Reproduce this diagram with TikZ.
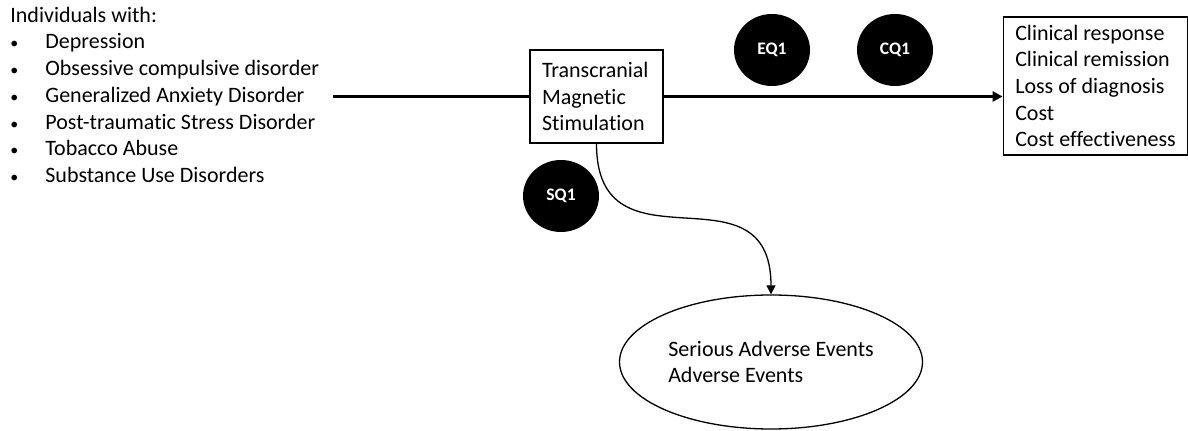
\documentclass[tikz,border=0pt]{standalone}
\usepackage{fontspec}
\setmainfont{Carlito}[Ligatures=NoCommon]
\usetikzlibrary{arrows.meta,shapes.geometric}
\tikzset{
	box/.style={draw, line width=0.65pt, inner xsep=6pt, inner ysep=0pt},
	kq/.style={ellipse, fill=black, inner sep=0pt, minimum width=38pt, minimum height=36pt,
		text=white, font=\bfseries\fontsize{8.8}{10}\selectfont},
}
\newcommand{\bul}{{\fontsize{8}{8}\selectfont\textbullet}}
\begin{document}
\begin{tikzpicture}[x=0.5pt, y=-0.5pt, font=\fontsize{11}{13.35}\selectfont]
		\useasboundingbox (0,0) rectangle (1188,431);
		\node[anchor=west, inner sep=0pt] (pop) at (10,97) {%
			\begin{tabular}{@{}p{17.5pt}@{}l@{}}
				\multicolumn{2}{@{}l@{}}{Individuals with:}\\
				\bul & Depression\\
				\bul & Obsessive compulsive disorder\\
				\bul & Generalized Anxiety Disorder\\
				\bul & Post-traumatic Stress Disorder\\
				\bul & Tobacco Abuse\\
				\bul & Substance Use Disorders
			\end{tabular}};
		\coordinate (start) at (333,96.5);
		\node[box, align=flush left, text width=54.5pt, minimum height=46.5pt] (tms) at (596.5,96.5)
			{Transcranial\\Magnetic\\Stimulation};
		\node[box, align=left, minimum width=91.5pt, minimum height=69pt] (out) at (1095.5,86)
			{Clinical response\\Clinical remission\\Loss of diagnosis\\Cost\\Cost effectiveness};
		\node[ellipse, draw, line width=0.65pt, align=left, inner sep=0pt,
			minimum width=151.5pt, minimum height=67pt] (ae) at (771,362)
			{Serious Adverse Events\\Adverse Events};
		\node[kq] (eq) at (772,50) {EQ1};
		\node[kq] (cq) at (895,50) {CQ1};
		\node[kq] (sq) at (561,196) {SQ1};
		\draw [line width=1.5pt] (start)--(tms.west);
		\draw [line width=1.5pt, -{Triangle[length=5pt, width=5pt]}] (tms.east)--(tms.east -| out.west);
		\draw [line width=0.65pt, -{Triangle[length=4.5pt, width=4.5pt]}] (tms.south)
			to[out=-90, in=90, looseness=1.5] (ae.north);
	\end{tikzpicture}
\end{document}
